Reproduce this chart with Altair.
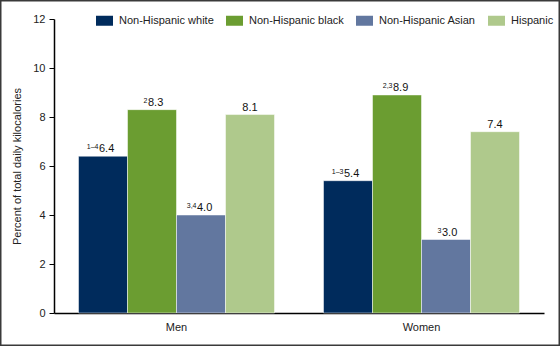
import altair as alt
import pandas as pd

sexes = ["Men", "Women"]
groups = ["Non-Hispanic white", "Non-Hispanic black", "Non-Hispanic Asian", "Hispanic"]
values_men = [6.4, 8.3, 4.0, 8.1]
values_women = [5.4, 8.9, 3.0, 7.4]
sup_men = ["1\u20134", "2", "3,4", ""]
sup_women = ["1\u20133", "2,3", "3", ""]
colors = ["#002b5c", "#6b9d31", "#62779f", "#afc98c"]
y_ticks = [0, 2, 4, 6, 8, 10, 12]

rows = []
for s, vals, sups in [("Men", values_men, sup_men), ("Women", values_women, sup_women)]:
    for g, v, sp in zip(groups, vals, sups):
        rows.append({"sex": s, "group": g, "value": v, "sup": sp})
df = pd.DataFrame(rows)

FONT = "Liberation Sans"

x_enc = alt.X("sex:N", sort=sexes, title=None,
              scale=alt.Scale(paddingInner=0.2, paddingOuter=0.1),
              axis=alt.Axis(labelAngle=0, ticks=False, labelPadding=8, labelFontSize=11,
                            labelColor="#222", domainColor="#000", domainWidth=1.5))
y_enc = alt.Y("value:Q", title="Percent of total daily kilocalories",
              scale=alt.Scale(domain=[0, 12], nice=False),
              axis=alt.Axis(values=y_ticks, grid=False, tickSize=5, tickColor="#000",
                            domainColor="#000", domainWidth=1.5, labelFontSize=11,
                            labelColor="#222", labelPadding=4, titleFontSize=11,
                            titleFontWeight="normal", titleColor="#222", titlePadding=10))
xo = alt.XOffset("group:N", sort=groups)

base = alt.Chart(df)

bars = base.mark_bar(stroke="white", strokeWidth=0.5).encode(
    x=x_enc, y=y_enc, xOffset=xo,
    color=alt.Color("group:N", sort=groups, scale=alt.Scale(domain=groups, range=colors),
                    legend=alt.Legend(title=None, orient="none", direction="horizontal",
                                      legendX=45, legendY=-4, labelFontSize=11,
                                      labelColor="#222", symbolType="M-1.7,-1L1.7,-1L1.7,1L-1.7,1Z",
                                      symbolSize=100, symbolStrokeWidth=0, labelOffset=9,
                                      columnPadding=12, symbolOpacity=1)),
)

num_sup = base.transform_filter("datum.sup != ''").mark_text(
    align="left", baseline="alphabetic", dx=-4, dy=-4, fontSize=11, font=FONT, color="#111"
).encode(x=x_enc, y=y_enc, xOffset=xo, text=alt.Text("value:Q", format=".1f"))

num_plain = base.transform_filter("datum.sup == ''").mark_text(
    align="center", baseline="alphabetic", dy=-4, fontSize=11, font=FONT, color="#111"
).encode(x=x_enc, y=y_enc, xOffset=xo, text=alt.Text("value:Q", format=".1f"))

sup_text = base.transform_filter("datum.sup != ''").mark_text(
    align="right", baseline="alphabetic", dx=-4.5, dy=-7, fontSize=7, font=FONT, color="#111"
).encode(x=x_enc, y=y_enc, xOffset=xo, text="sup:N")

border = alt.Chart(pd.DataFrame({"a": [0]})).mark_rect(
    fill=None, stroke="#3a3a3a", strokeWidth=1.5
).encode(x=alt.value(-53.25), x2=alt.value(505.25), y=alt.value(-18.25), y2=alt.value(326.25))

chart = alt.layer(bars, num_sup, num_plain, sup_text, border).properties(
    width=490, height=294,
    autosize=alt.AutoSizeParams(type="none"),
    padding={"left": 54, "top": 19, "right": 16, "bottom": 33},
).configure(font=FONT).configure_view(stroke=None)

chart.save("out.html", embed_options={"renderer": "svg", "actions": False})
